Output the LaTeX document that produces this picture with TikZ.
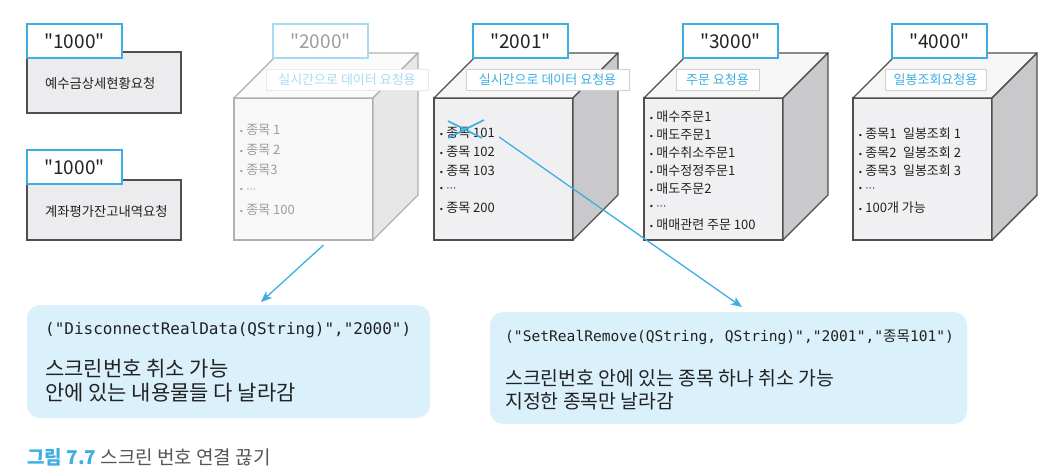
\documentclass[tikz,border=0pt]{standalone}
\usepackage{fontspec}
\setmainfont{Noto Sans CJK KR}[Ligatures=TeXOff]
\setmonofont{DejaVu Sans Mono}
\newfontfamily\symfont{DejaVu Sans}
\usetikzlibrary{arrows.meta, calc}

\definecolor{tabblue}{HTML}{3BAFE2}
\definecolor{cubeline}{HTML}{4F4F4F}
\definecolor{frontgray}{HTML}{F0F0F2}
\definecolor{topgray}{HTML}{F6F6F7}
\definecolor{rightgray}{HTML}{C9C9CB}
\definecolor{kindline}{HTML}{CFCFCF}
\definecolor{panelgray}{HTML}{ECECEE}
\definecolor{noteblue}{HTML}{DAF0FB}
\definecolor{inkgray}{HTML}{222222}
\definecolor{capgray}{HTML}{555555}

\newcommand\bul{{\symfont\fontsize{8}{8}\selectfont •}\hspace{2.5pt}}
\newcommand\moredots{{\symfont\fontsize{10}{10}\selectfont ⋯}}

\tikzstyle{frontface}=[draw, inner sep=0pt, outer sep=0pt, minimum width=139pt, minimum height=142pt, line width=1.4pt]
\tikzstyle{sideface}=[line width=1.4pt, line join=round]
\tikzstyle{idtab}=[draw, fill=white, line width=1.8pt, inner sep=0pt, outer sep=0pt, minimum width=95pt, minimum height=34pt, font=\fontsize{19}{19}\selectfont]
\tikzstyle{kindtag}=[draw, fill=white, line width=0.9pt, inner sep=0pt, minimum height=21pt, font=\fontsize{13}{13}\selectfont]
\tikzstyle{listitem}=[anchor=west, inner sep=0pt, font=\fontsize{13}{13}\selectfont]
\tikzstyle{reqbox}=[draw=cubeline, fill=panelgray, line width=1.4pt, inner sep=0pt, outer sep=0pt, minimum width=154pt]
\tikzstyle{notebox}=[fill=noteblue, rounded corners=13pt, inner sep=0pt, outer sep=0pt]
\tikzstyle{pointer}=[draw=tabblue, line width=1.3pt, -{Stealth[length=11pt,width=9pt,inset=3pt]}]

\begin{document}
\begin{tikzpicture}[x=1pt, y=-1pt]
  \fill[white] (0,0) rectangle (1063,476);
  \useasboundingbox (0,0) rectangle (1063,476);

  % request boxes on the left
  \node[reqbox, minimum height=61pt] (g1) at (104,82.5) {};
  \node[idtab, draw=tabblue, text=inkgray] (t1) at (74.5,41) {"1000"};
  \node[anchor=west, inner sep=0pt, font=\fontsize{13.3}{13.3}\selectfont, text=inkgray] (r1) at (45,83) {예수금상세현황요청};
  \node[reqbox, minimum height=60pt] (g2) at (104,210) {};
  \node[idtab, draw=tabblue, text=inkgray] (t2) at (74.5,167) {"1000"};
  \node[anchor=west, inner sep=0pt, font=\fontsize{13.3}{13.3}\selectfont, text=inkgray] (r2) at (45,211) {계좌평가잔고내역요청};

  % screen number cubes
  \foreach \L/\id/\kw/\kind/\f in {234/2000/162/실시간으로 데이터 요청용/45, 434/2001/163/실시간으로 데이터 요청용/100, 644/3000/83/주문 요청용/100, 853/4000/101/일봉조회요청용/100}{
    \node[frontface, draw=cubeline!\f!white, fill=frontgray!\f!white] (f\id) at (\L+69.5,169) {};
    \draw[sideface, draw=cubeline!\f!white, fill=topgray!\f!white] (f\id.north west) -- ++(45,-45) -- ++(139,0) -- (f\id.north east) -- cycle;
    \draw[sideface, draw=cubeline!\f!white, fill=rightgray!\f!white] (f\id.north east) -- ++(45,-45) -- ++(0,142) -- (f\id.south east) -- cycle;
    \node[idtab, draw=tabblue!\f!white, text=inkgray!\f!white] (t\id) at (\L+86.5,41) {"\id"};
    \node[kindtag, draw=kindline!\f!white, text=tabblue!\f!white, minimum width=\kw pt] (k\id) at (\L+32+\kw/2,79.5) {\kind};
  }

  % contents
  \foreach \t [count=\i] in {종목 1, 종목 2, 종목3, \moredots, 종목 100}
    \node[listitem, text=inkgray!45!white] (it2000-\i) at ({239},{130+20*(\i-1)}) {\bul\t};
  \foreach \t [count=\i] in {종목 101, 종목 102, 종목 103, \moredots, 종목 200}
    \node[listitem, text=inkgray] (it2001-\i) at ({439},{133+18.75*(\i-1)}) {\bul\t};
  \foreach \t [count=\i] in {매수주문1, 매도주문1, 매수취소주문1, 매수정정주문1, 매도주문2, \moredots, 매매관련 주문 100}
    \node[listitem, text=inkgray] (it3000-\i) at ({649},{117+18*(\i-1)}) {\bul\t};
  \foreach \t [count=\i] in {종목1\enspace 일봉조회 1, 종목2\enspace 일봉조회 2, 종목3\enspace 일봉조회 3, \moredots, 100개 가능}
    \node[listitem, text=inkgray] (it4000-\i) at ({858},{134+18.5*(\i-1)}) {\bul\t};

  % crossed out item
  \draw[tabblue, line width=1.6pt] ([shift={(9,-12)}]it2001-1.west) -- ([shift={(43,5)}]it2001-1.west);
  \draw[tabblue, line width=1.6pt] ([shift={(9,5)}]it2001-1.west) -- ([shift={(45,-13)}]it2001-1.west);

  % notes
  \node[notebox, minimum width=403pt, minimum height=113pt] (n1) at (228.5,361.5) {};
  \node[anchor=west, inner sep=0pt, font=\ttfamily\fontsize{16}{16}\selectfont, text=inkgray] (c1) at (45,330) {("DisconnectRealData(QString)","2000")};
  \node[anchor=west, inner sep=0pt, align=left, font=\fontsize{21}{24}\selectfont, text=inkgray] (d1) at (45,381) {스크린번호 취소 가능\\안에 있는 내용물들 다 날라감};
  \node[notebox, minimum width=477pt, minimum height=112pt] (n2) at (728.5,368) {};
  \node[anchor=west, inner sep=0pt, font=\ttfamily\fontsize{14.6}{14.6}\selectfont, text=inkgray] (c2) at (505,337) {("SetRealRemove(QString, QString)","2001","{\rmfamily 종목}101")};
  \node[anchor=west, inner sep=0pt, align=left, font=\fontsize{19.4}{23}\selectfont, text=inkgray] (d2) at (505,389.5) {스크린번호 안에 있는 종목 하나 취소 가능\\지정한 종목만 날라감};

  % arrows
  \coordinate (s1) at ([shift={(20,5)}]f2000.south);
  \coordinate (e1) at ([shift={(234,-3)}]n1.north west);
  \draw[pointer] (s1) -- (e1);
  \coordinate (e2) at ([shift={(252,-5)}]n2.north west);
  \draw[pointer] ([shift={(4,4)}]it2001-1.east) -- (e2);

  % caption
  \node[anchor=west, inner sep=0pt, font=\fontsize{19}{19}\selectfont, text=capgray] (cap) at (27,457) {{\color{tabblue}\bfseries 그림 7.7} 스크린 번호 연결 끊기};
\end{tikzpicture}
\end{document}
